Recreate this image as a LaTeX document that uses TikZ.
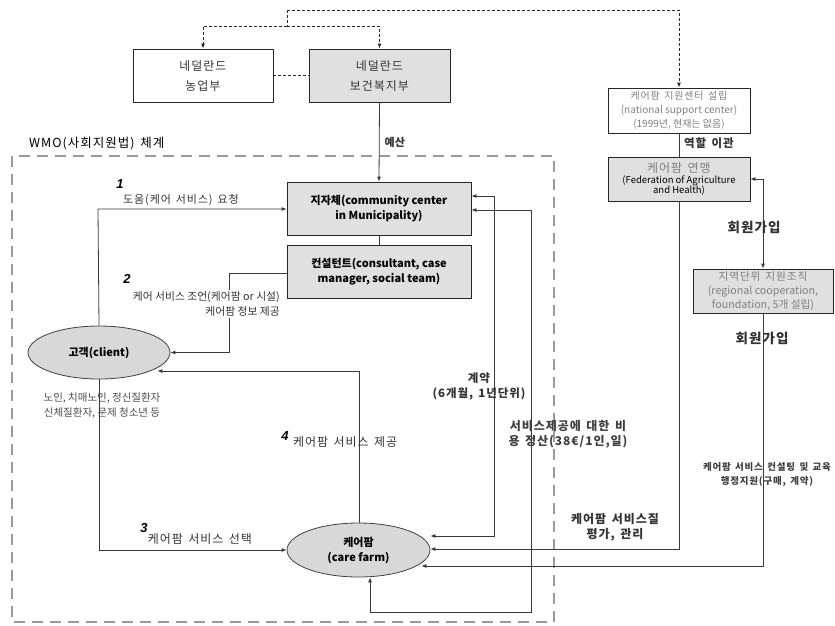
\documentclass[tikz,border=0pt]{standalone}
\usepackage{fontspec}
\setmainfont{Noto Sans CJK KR}
\newfontfamily\krw[LetterSpace=8,WordSpace=1.5]{Noto Sans CJK KR}
\newfontfamily\numfont{Liberation Sans}
\usetikzlibrary{arrows.meta,shapes.geometric}
\definecolor{boxfill}{HTML}{E0E0E0}
\definecolor{ellfill}{HTML}{D8D8D8}
\definecolor{linec}{HTML}{3A3A3A}
\definecolor{graytext}{HTML}{808080}
\definecolor{wmogray}{HTML}{9A9A9A}
\begin{document}
\begin{tikzpicture}[x=1pt,y=-1pt,
  >={Latex[length=5pt,width=4pt]},
  conn/.style={draw=linec, line width=0.8pt},
  dd/.style={draw=black!85, line width=0.9pt, dash pattern=on 3pt off 2pt},
  box/.style={draw=black!85, line width=0.8pt, align=center, inner sep=0pt},
  gbox/.style={box, fill=boxfill},
  ell/.style={draw=black!75, line width=0.8pt, ellipse, fill=ellfill, inner sep=0pt, align=center},
  lbl/.style={align=center, inner sep=1pt, text=black!80},
  num/.style={inner sep=0pt, font=\numfont\fontsize{13}{13}\selectfont\bfseries\itshape}
]
\useasboundingbox (0,0) rectangle (835,625);

% WMO dashed frame
\draw[wmogray, line width=2.6pt, dash pattern=on 11pt off 7pt] (12,156) rectangle (554,622);
\node[anchor=west, inner sep=0pt, font=\krw\fontsize{12.5}{14}\selectfont] (wmo) at (29,144) {WMO(사회지원법) 체계};

% boxes
\node[box, minimum width=140pt, minimum height=53pt, font=\krw\fontsize{12}{20}\selectfont, text=black!80] (agri) at (203,75.5) {네덜란드\\농업부};
\node[gbox, minimum width=141pt, minimum height=53pt, font=\krw\fontsize{12}{20}\selectfont, text=black!80] (health) at (379.5,75.5) {네덜란드\\보건복지부};
\node[box, minimum width=142pt, minimum height=45pt, font=\fontsize{10}{14}\selectfont, text=graytext] (nsc) at (679,110.5) {{\krw 케어팜 지원센터 설립}\\(national support center)\\(1999년, 현재는 없음)};
\node[gbox, minimum width=184pt, minimum height=53pt, font=\fontsize{11}{15}\selectfont\bfseries] (muni) at (379,208.5) {지자체(community center\\in Municipality)};
\node[gbox, minimum width=184pt, minimum height=53pt, font=\fontsize{11}{15}\selectfont\bfseries] (cons) at (379,271.5) {컨설턴트(consultant, case\\manager, social team)};
\node[gbox, minimum width=142pt, minimum height=44pt, align=center] (fed) at (679,179) {{\krw\fontsize{12}{14}\selectfont\color{graytext}케어팜 연맹}\\[-1pt]{\fontsize{9.5}{13}\selectfont(Federation of Agriculture}\\[-2.5pt]{\fontsize{9.5}{13}\selectfont and Health)}};
\node[gbox, minimum width=140pt, minimum height=44pt, font=\fontsize{10.7}{14}\selectfont, text=graytext] (reg) at (763,291) {{\krw 지역단위 지원조직}\\(regional cooperation,\\foundation, 5개 설립)};
\node[ell, minimum width=142pt, minimum height=53pt, font=\fontsize{11}{15}\selectfont\bfseries] (client) at (99,352.5) {고객(client)};
\node[ell, minimum width=143pt, minimum height=54pt, font=\fontsize{11}{15}\selectfont\bfseries] (farm) at (358.5,550) {케어팜\\(care farm)};

% top dotted connectors
\coordinate (t2) at (287,10);
\coordinate (t1) at (287,26);
\draw[dd] (t2) -- (t1);
\draw[dd,->] (t1) -| (agri.north);
\draw[dd,->] (t1) -| (health.north);
\draw[dd,->] (t2) -| (nsc.north);
\draw[dd] (agri.east) -- (health.west);

% budget
\draw[conn,->] (health.south) -- (muni.north) node[pos=0.5, anchor=west, lbl, xshift=4pt, font=\fontsize{11}{14}\selectfont\bfseries] (budget) {예산};
\draw[conn] (muni.south) -- (cons.north);

% 1: request
\coordinate (c1) at (98,209);
\draw[conn,->] (client.north) -- (c1) -- (muni.west |- c1);
\node[num] (n1) at (120,184) {1};
\node[lbl, font=\krw\fontsize{11}{14}\selectfont] (l1) at (181,200) {도움(케어 서비스) 요청};

% 2: advice
\coordinate (c2a) at (229,273);
\coordinate (c2b) at (229,352.5);
\draw[conn,->] (cons.west |- c2a) -- (c2a) -- (c2b) -- (client.east);
\node[num] (n2) at (127,279) {2};
\node[lbl, fill=white, anchor=east, align=right, font=\fontsize{10.8}{15.5}\selectfont] (l2) at (281,304) {케어 서비스 조언(케어팜 or 시설)\\케어팜 정보 제공};

% client description
\node[lbl, fill=white, text=black!70, font=\fontsize{10.5}{15}\selectfont, inner sep=2pt] (cdesc) at (102,405.5) {노인, 치매노인, 정신질환자\\신체질환자, 문제 청소년 등};

% 3: selection
\draw[conn,->] (client.south) |- (farm.west);
\node[num] (n3) at (144,528) {3};
\node[lbl, font=\krw\fontsize{12}{14}\selectfont] (l3) at (200,539) {케어팜 서비스 선택};

% 4: service provision
\coordinate (c4a) at (359,371);
\draw[conn,->] (farm.north -| c4a) -- (c4a) -- ([xshift=-13pt]client.east |- c4a);
\node[num] (n4) at (285,436) {4};
\node[lbl, anchor=west, font=\krw\fontsize{12}{14}\selectfont] (l4) at (292,442) {케어팜 서비스 제공};

% contract
\coordinate (k1) at (494,196);
\coordinate (k2) at (494,536);
\draw[conn,<->] (muni.east |- k1) -- (k1) -- (k2) -- (farm.east |- k2);
\node[lbl, font=\krw\fontsize{11.5}{15}\selectfont\bfseries] (lk) at (479,386) {계약\\(6개월, 1년단위)};

% payment
\coordinate (p1) at (531,210);
\coordinate (p2) at (531,612);
\coordinate (p3) at (370,612);
\draw[conn,<->] (muni.east |- p1) -- (p1) -- (p2) -- (p3) -- (farm.south -| p3);
\node[lbl, font=\krw\fontsize{12}{15}\selectfont\bfseries, text=black!75] (lp) at (568,434.5) {서비스제공에 대한 비\\용 정산(38€/1인,일)};

% right column
\draw[conn] (nsc.south) -- (fed.north);
\node[lbl, anchor=west, font=\krw\fontsize{11.5}{14}\selectfont\bfseries] (lrole) at (683,143) {역할 이관};
\coordinate (f1) at (763,179);
\draw[conn,<->] (fed.east |- f1) -- (f1) -- (reg.north);
\node[lbl, font=\krw\fontsize{13.5}{14}\selectfont\bfseries] (lm1) at (754,227) {회원가입};
\draw[conn,->] (fed.south) |- (farm.east |- 0,549);
\node[lbl, font=\krw\fontsize{12}{15}\selectfont\bfseries] (lq) at (615,527) {케어팜 서비스질\\평가, 관리};
\draw[conn,->] (reg.south) |- ([xshift=-9pt]farm.east |- 0,566);
\node[lbl, font=\krw\fontsize{13.5}{14}\selectfont\bfseries] (lm2) at (762,338) {회원가입};
\node[lbl, font=\krw\fontsize{9.5}{14}\selectfont\bfseries, text=black!75] (lc) at (767,475) {케어팜 서비스 컨설팅 및 교육\\행정지원(구매, 계약)};
\end{tikzpicture}
\end{document}
